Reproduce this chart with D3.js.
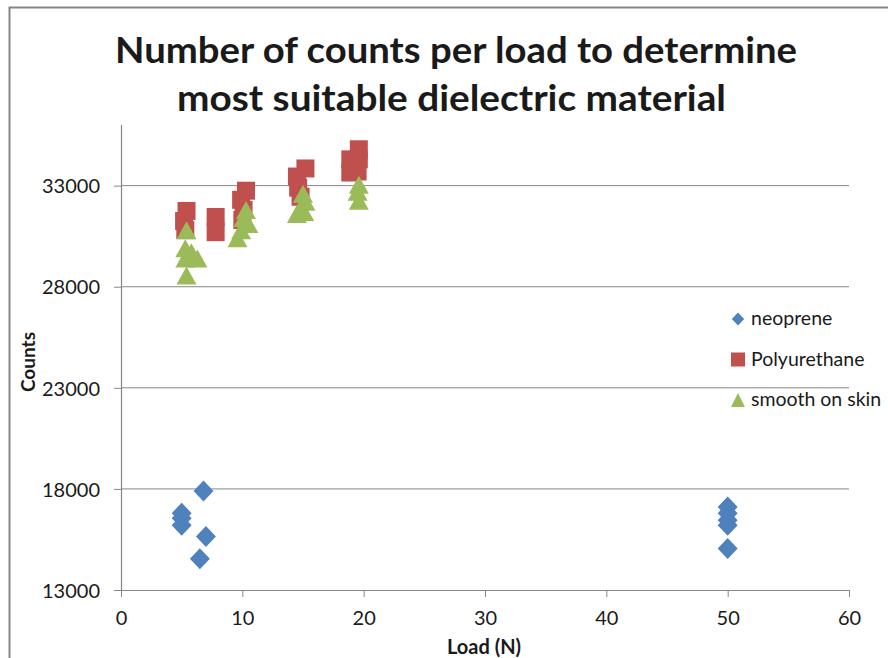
<!DOCTYPE html>
<html lang="en">
<head>
<meta charset="utf-8">
<script src="https://cdn.jsdelivr.net/npm/d3@7"></script>
<style>
  body { margin: 0; background: #fff; }
  text { font-family: Lato, "Open Sans", sans-serif; fill: #1a1a1a; }
</style>
<title>Counts per load</title>
</head>
<body>
<svg id="chart" width="888" height="658"></svg>
<script>
// data
const seriesNames = ["neoprene", "Polyurethane", "smooth on skin"]
const seriesColors = ["#4F81BD", "#C0504D", "#9BBB59"]

const neopreneLoad = [6.8, 5.0, 5.0, 5.0, 7.0, 6.5, 50, 50, 50, 50, 50]
const neopreneCounts = [17900, 16800, 16550, 16200, 15650, 14550, 17100, 16800, 16450, 16200, 15050]

const polyLoad = [5.4, 5.2, 5.3, 7.8, 7.8, 10.3, 9.9, 10.1, 10.0, 15.2, 14.5, 14.6, 14.8, 19.6, 19.6, 18.9, 18.9, 19.5]
const polyCounts = [31750, 31250, 30800, 31450, 30700, 32750, 32300, 31800, 31300, 33850, 33450, 32900, 32450, 34800, 34300, 34300, 33650, 33700]

const skinLoad = [5.4, 5.3, 5.3, 6.3, 5.8, 5.4, 10.3, 10.1, 10.5, 9.9, 9.6, 15.0, 15.2, 14.8, 14.5, 15.1, 19.6, 19.5, 19.6]
const skinCounts = [30800, 29900, 29400, 29400, 29700, 28550, 31800, 31400, 31100, 30800, 30400, 32600, 32200, 31900, 31600, 31700, 33050, 32700, 32250]

const xTicks = [0, 10, 20, 30, 40, 50, 60]
const yTicks = [13000, 18000, 23000, 28000, 33000]

const titleLines = ["Number of counts per load to determine", "most suitable dielectric material"]

let svg = d3.select("#chart")

// chart frame (runs off the right/bottom of the picture)
svg.append("rect")
    .attr("x", 9.5).attr("y", 7.5)
    .attr("width", 950).attr("height", 720)
    .attr("fill", "#fff")
    .attr("stroke", "#868686")
    .attr("stroke-width", 2)

let x = d3.scaleLinear().domain([0, 60]).range([121, 849])
let y = d3.scaleLinear().domain([13000, 36000]).range([590, 125])

// gridlines
svg.append("g").selectAll("line")
    .data(yTicks.slice(1))
    .enter()
    .append("line")
    .attr("x1", 121).attr("x2", 849)
    .attr("y1", d => y(d)).attr("y2", d => y(d))
    .attr("stroke", "#868686")
    .attr("stroke-width", 1)

// axes
let axisY = d3.axisLeft(y).tickValues(yTicks).tickSize(7).tickFormat(d3.format("d"))
let gy = svg.append("g").attr("transform", "translate(121,0)").call(axisY)
let axisX = d3.axisBottom(x).tickValues(xTicks).tickSize(7)
let gx = svg.append("g").attr("transform", "translate(0,590)").call(axisX)

for (const g of [gx, gy]) {
    g.select(".domain").attr("stroke", "#868686").attr("stroke-width", 1.2)
    g.selectAll(".tick line").attr("stroke", "#868686")
    g.selectAll(".tick text").style("font-size", "20px").attr("fill", "#1a1a1a")
}
gy.select(".domain").attr("d", "M0.5,125V590.5")
gx.select(".domain").attr("d", "M121,0.5H849")
gy.selectAll(".tick text").attr("x", -21).attr("dy", "0.36em")
gx.selectAll(".tick text").attr("y", 35).attr("dy", 0)

// title
svg.append("g").selectAll("text")
    .data(titleLines)
    .enter()
    .append("text")
    .text(d => d)
    .attr("x", (d, i) => i == 0 ? 115 : 177)
    .attr("y", (d, i) => i == 0 ? 63 : 111)
    .attr("textLength", (d, i) => i == 0 ? 682 : 549)
    .attr("lengthAdjust", "spacingAndGlyphs")
    .style("font-size", "36px")
    .style("font-weight", "bold")
    .attr("fill", "#000")

// axis labels
svg.append("text")
    .text("Load (N)")
    .attr("x", 484).attr("y", 654)
    .attr("text-anchor", "middle")
    .style("font-size", "20px")
    .style("font-weight", "bold")

svg.append("text")
    .text("Counts")
    .attr("transform", "translate(35,362) rotate(-90)")
    .attr("text-anchor", "middle")
    .style("font-size", "19px")
    .style("font-weight", "bold")

// marker shapes
function diamond(s) { return `M0,${-s}L${s * 0.95},0L0,${s}L${-s * 0.95},0Z` }
function square(s) { return `M${-s},${-s}H${s}V${s}H${-s}Z` }
function triangle(w, h) { return `M0,${-h / 2}L${w / 2},${h / 2}L${-w / 2},${h / 2}Z` }

const series = [
    { load: neopreneLoad, counts: neopreneCounts, path: diamond(10.5) },
    { load: polyLoad, counts: polyCounts, path: square(9) },
    { load: skinLoad, counts: skinCounts, path: triangle(20, 18) }
]
const legendPaths = [diamond(6.5), square(7), triangle(14, 14)]

series.forEach((s, i) => {
    svg.append("g").selectAll("path")
        .data(s.load.map((l, j) => ({ load: l, counts: s.counts[j] })))
        .enter()
        .append("path")
        .attr("d", s.path)
        .attr("transform", d => `translate(${x(d.load)},${y(d.counts)})`)
        .attr("fill", seriesColors[i])
})

// legend
let legend = svg.append("g").selectAll("g")
    .data(seriesNames)
    .enter()
    .append("g")
    .attr("transform", (d, i) => `translate(738,${319 + i * 40.5})`)
legend.append("path")
    .attr("d", (d, i) => legendPaths[i])
    .attr("fill", (d, i) => seriesColors[i])
legend.append("text")
    .text(d => d)
    .attr("x", 13)
    .attr("dy", "0.32em")
    .style("font-size", "19.5px")
</script>
</body>
</html>
